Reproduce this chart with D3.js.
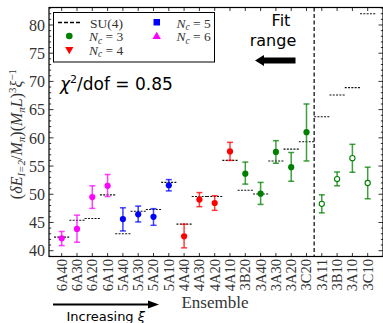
<!DOCTYPE html>
<html>
<head>
<meta charset="utf-8">
<script src="https://cdn.jsdelivr.net/npm/d3@7"></script>
<style>
  body { margin: 0; background: #fff; }
  svg { display: block; }
  .serif { font-family: "Liberation Serif", "DejaVu Serif", serif; fill: #333; }
  .sans { font-family: "DejaVu Sans", sans-serif; fill: #000; }
</style>
</head>
<body>
<svg width="383" height="323"></svg>
<script>
// ensembles, in plotted order
var ensembles = ["6A40","6A30","6A20","6A10","5A40","5A30","5A20","5A10",
                 "4A40","4A30","4A20","4A10","3B20","3A40","3A30","3A20","3C20",
                 "3A11","3B10","3A10","3C10"];
var nc =        [6,6,6,6,5,5,5,5,4,4,4,4,3,3,3,3,3,3,3,3,3];
var values =    [42.2,43.85,49.5,51.5,45.6,46.45,46.0,51.6,42.55,49.05,48.45,57.6,
                 53.65,50.1,57.5,54.8,61.0,48.3,52.7,56.4,52.0];
var errLow =    [40.9,41.5,47.5,49.6,43.5,45.1,44.5,50.6,40.5,47.8,47.15,56.0,
                 51.8,48.2,55.5,52.3,55.9,46.7,51.5,53.9,49.2];
var errHigh =   [43.4,46.3,51.5,53.5,47.6,47.9,47.45,52.6,44.7,50.3,49.75,59.2,
                 55.7,52.1,59.5,57.4,66.0,49.9,53.95,58.85,54.8];
var su4 =       [42.4,45.4,45.7,49.9,43.0,47.0,47.3,52.1,44.7,49.6,49.6,56.0,
                 50.7,50.05,55.9,58.0,59.3,63.75,67.6,68.9,82.0];
var fitCount = 17; // first 17 ensembles are in the fit range
var yTicks = [40,45,50,55,60,65,70,75,80];

var colorOf = {3: "#008000", 4: "#ff0000", 5: "#0000ff", 6: "#ff00ff"};

var margin = {top: 7.5, right: 0, bottom: 66.5, left: 49};
var width = 383 - margin.left - margin.right;
var height = 323 - margin.top - margin.bottom;

var svg = d3.select("svg");
var g = svg.append("g")
    .attr("transform", "translate(" + margin.left + "," + margin.top + ")");

var x = d3.scaleLinear().domain([-0.83, 21]).range([0, width]);
var y = d3.scaleLinear().domain([38.97, 83.1]).range([height, 0]);

// ticks, inward on all sides
var minor = d3.range(39, 84, 1);
var tk = g.append("g").attr("stroke", "#000").attr("stroke-width", 0.8);
minor.forEach(function(v) {
  var len = v % 5 === 0 ? 4.5 : 2.2;
  tk.append("line").attr("x1", 0).attr("x2", len).attr("y1", y(v)).attr("y2", y(v));
  tk.append("line").attr("x1", width).attr("x2", width - len).attr("y1", y(v)).attr("y2", y(v));
});
ensembles.forEach(function(e, i) {
  tk.append("line").attr("x1", x(i)).attr("x2", x(i)).attr("y1", height).attr("y2", height - 3.5);
  tk.append("line").attr("x1", x(i)).attr("x2", x(i)).attr("y1", 0).attr("y2", 3.5);
});

g.append("rect").attr("width", width).attr("height", height)
    .attr("fill", "none").attr("stroke", "#000").attr("stroke-width", 1.2);

// y tick labels
g.selectAll(".ylab").data(yTicks).enter().append("text")
    .attr("class", "serif")
    .attr("x", -4).attr("y", function(d) { return y(d); })
    .attr("dy", "0.36em")
    .attr("text-anchor", "end")
    .style("font-size", "16px")
    .text(function(d) { return d; });

// x tick labels, rotated
g.selectAll(".xlab").data(ensembles).enter().append("text")
    .attr("class", "serif")
    .attr("transform", function(d, i) { return "translate(" + (x(i) + 5) + "," + (height + 2.5) + ") rotate(-90)"; })
    .attr("text-anchor", "end")
    .style("font-size", "14.5px")
    .text(function(d) { return d; });

// fit range divider
g.append("line")
    .attr("x1", x(fitCount - 0.5)).attr("x2", x(fitCount - 0.5))
    .attr("y1", 0).attr("y2", height)
    .attr("stroke", "#000").attr("stroke-width", 1.2)
    .attr("stroke-dasharray", "4,2.5");

// SU(4) predictions
g.selectAll(".su4").data(su4).enter().append("line")
    .attr("x1", function(d, i) { return x(i - 0.5); })
    .attr("x2", function(d, i) { return x(i + 0.5); })
    .attr("y1", function(d) { return y(d); })
    .attr("y2", function(d) { return y(d); })
    .attr("stroke", "#111").attr("stroke-width", 1.1)
    .attr("stroke-dasharray", "2,1.3");

// error bars
var eb = g.selectAll(".err").data(values).enter().append("g")
    .attr("stroke", function(d, i) { return colorOf[nc[i]]; })
    .attr("stroke-opacity", 0.75)
    .attr("stroke-width", 1.5);
eb.append("line")
    .attr("x1", function(d, i) { return x(i); }).attr("x2", function(d, i) { return x(i); })
    .attr("y1", function(d, i) { return y(errLow[i]); })
    .attr("y2", function(d, i) { return y(errHigh[i]); });
eb.append("line")
    .attr("x1", function(d, i) { return x(i) - 3; }).attr("x2", function(d, i) { return x(i) + 3; })
    .attr("y1", function(d, i) { return y(errLow[i]); })
    .attr("y2", function(d, i) { return y(errLow[i]); });
eb.append("line")
    .attr("x1", function(d, i) { return x(i) - 3; }).attr("x2", function(d, i) { return x(i) + 3; })
    .attr("y1", function(d, i) { return y(errHigh[i]); })
    .attr("y2", function(d, i) { return y(errHigh[i]); });

// points
g.selectAll(".dot").data(values).enter().append("circle")
    .attr("cx", function(d, i) { return x(i); })
    .attr("cy", function(d) { return y(d); })
    .attr("r", function(d, i) { return i < fitCount ? 3.1 : 2.6; })
    .attr("fill", function(d, i) { return i < fitCount ? colorOf[nc[i]] : "#fff"; })
    .attr("stroke", function(d, i) { return colorOf[nc[i]]; })
    .attr("stroke-width", function(d, i) { return i < fitCount ? 0 : 1.1; });

// legend
var lg = svg.append("g");
lg.append("rect").attr("x", 53.5).attr("y", 12.5).attr("width", 161).attr("height", 49.5)
    .attr("fill", "#fff").attr("stroke", "#000").attr("stroke-width", 1);
lg.append("line").attr("x1", 58).attr("x2", 80).attr("y1", 22.5).attr("y2", 22.5)
    .attr("stroke", "#000").attr("stroke-width", 1.3).attr("stroke-dasharray", "4,2");
lg.append("circle").attr("cx", 69.3).attr("cy", 36).attr("r", 3.3).attr("fill", colorOf[3]);
lg.append("path")
    .attr("d", d3.symbol(d3.symbolTriangle, 30)()).attr("transform", "translate(69.3,49.5) rotate(180)")
    .attr("fill", colorOf[4]);
lg.append("rect").attr("x", 153.5).attr("y", 19).attr("width", 6.5).attr("height", 6.5).attr("fill", colorOf[5]);
lg.append("path").attr("d", d3.symbol(d3.symbolTriangle, 30)())
    .attr("transform", "translate(156.7,36.5)").attr("fill", colorOf[6]);

lg.append("text").attr("class", "serif").attr("x", 90).attr("y", 27.5)
    .style("font-size", "13.5px").text("SU(4)");
function ncLabel(xp, yp, n) {
  var t = lg.append("text").attr("class", "serif").attr("x", xp).attr("y", yp).style("font-size", "13.5px");
  t.append("tspan").style("font-style", "italic").text("N");
  t.append("tspan").style("font-style", "italic").style("font-size", "9.5px").attr("dy", 2.5).text("c");
  t.append("tspan").attr("dy", -2.5).text(" = " + n);
}
ncLabel(89, 41, 3);
ncLabel(89, 54.5, 4);
ncLabel(176.5, 27.5, 5);
ncLabel(176.5, 41, 6);

// chi^2 annotation
var chi = svg.append("text").attr("class", "sans").attr("x", 60).attr("y", 89.5).style("font-size", "17px");
chi.append("tspan").style("font-style", "italic").text("χ");
chi.append("tspan").attr("dy", -7).style("font-size", "11px").text("2");
chi.append("tspan").attr("dy", 7).text("/dof = 0.85");

// fit range annotation
svg.append("text").attr("class", "sans").attr("x", 281).attr("y", 25.5)
    .attr("text-anchor", "middle").style("font-size", "16px").text("Fit");
svg.append("text").attr("class", "sans").attr("x", 273).attr("y", 46)
    .attr("text-anchor", "middle").style("font-size", "16px").text("range");
svg.append("path")
    .attr("d", "M295.5,57.5 L264,57.5 L264,55 L255,60.5 L264,66 L264,63.5 L295.5,63.5 Z")
    .attr("fill", "#000");

// axis labels
var yl = svg.append("text").attr("class", "serif")
    .attr("transform", "translate(22,134) rotate(-90)")
    .attr("text-anchor", "middle").style("font-size", "16px");
yl.append("tspan").text("(");
yl.append("tspan").style("font-style", "italic").text("δE");
yl.append("tspan").style("font-style", "italic").style("font-size", "11px").attr("dy", 3).text("I=2");
yl.append("tspan").attr("dy", -3).text("/");
yl.append("tspan").style("font-style", "italic").text("M");
yl.append("tspan").style("font-style", "italic").style("font-size", "11px").attr("dy", 3).text("π");
yl.append("tspan").attr("dy", -3).text(")(");
yl.append("tspan").style("font-style", "italic").text("M");
yl.append("tspan").style("font-style", "italic").style("font-size", "11px").attr("dy", 3).text("π");
yl.append("tspan").style("font-style", "italic").attr("dy", -3).text("L");
yl.append("tspan").text(")");
yl.append("tspan").style("font-size", "11px").attr("dy", -6).text("3");
yl.append("tspan").style("font-style", "italic").attr("dy", 6).text("ξ");
yl.append("tspan").style("font-size", "11px").attr("dy", -6).text("−1");

svg.append("text").attr("class", "serif").attr("x", 215).attr("y", 307.5)
    .attr("text-anchor", "middle").style("font-size", "17px").text("Ensemble");

svg.append("line").attr("x1", 53).attr("x2", 150).attr("y1", 304.5).attr("y2", 304.5)
    .attr("stroke", "#000").attr("stroke-width", 1.8);
svg.append("path").attr("d", "M148,300.5 L159,304.5 L148,308.5 Z").attr("fill", "#000");

var inc = svg.append("text").attr("class", "sans").attr("x", 66.5).attr("y", 321)
    .style("font-size", "13px");
inc.append("tspan").text("Increasing ");
inc.append("tspan").style("font-style", "italic").text("ξ");
</script>
</body>
</html>
